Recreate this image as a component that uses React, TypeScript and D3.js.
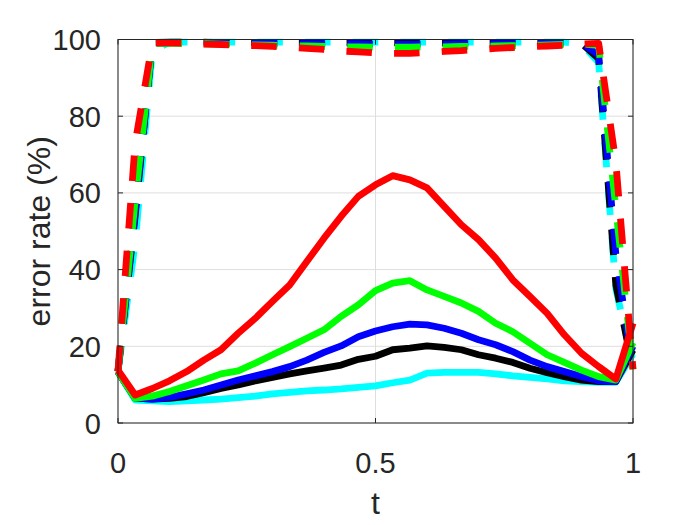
import React from 'react';
import * as d3 from 'd3';

// t = 0, 1/30, ..., 1
const tValues = d3.range(31).map((k) => k / 30);

const yTicks = [0, 20, 40, 60, 80, 100];
const xTicks = [0, 0.5, 1];
const xTickLabels = ['0', '0.5', '1'];

// solid curves (error rate %)
const solidRed = [13.8, 7.3, 9.0, 11.0, 13.4, 16.4, 19.1, 23.4, 27.3, 31.7, 36.0, 42.1, 48.2, 53.9, 59.1, 62.1, 64.5, 63.4, 61.3, 56.5, 51.7, 47.8, 43.0, 37.3, 33.0, 28.6, 23.0, 18.2, 14.7, 11.5, 26.0];
const solidGreen = [13.3, 6.4, 7.0, 8.2, 9.7, 11.2, 12.8, 13.6, 15.6, 17.8, 19.9, 22.1, 24.3, 27.8, 30.8, 34.5, 36.5, 37.1, 34.7, 33.0, 31.3, 29.1, 26.0, 23.8, 20.8, 17.8, 15.8, 13.8, 12.1, 11.2, 21.0];
const solidBlue = [13.3, 6.5, 6.2, 6.7, 7.6, 8.6, 9.9, 11.2, 12.3, 13.4, 14.7, 16.4, 18.4, 20.1, 22.5, 24.0, 25.1, 25.8, 25.6, 24.7, 23.4, 21.7, 20.4, 18.6, 16.4, 14.7, 13.4, 12.1, 11.0, 10.8, 20.0];
const solidBlack = [13.3, 6.5, 6.2, 6.4, 6.9, 7.9, 9.0, 9.9, 11.0, 11.9, 12.8, 13.6, 14.3, 15.1, 16.6, 17.4, 19.1, 19.5, 20.1, 19.7, 19.1, 17.8, 16.9, 15.8, 14.3, 13.1, 12.1, 11.2, 10.8, 10.8, 19.0];
const solidCyan = [13.3, 6.0, 5.8, 5.6, 5.8, 6.0, 6.2, 6.6, 7.0, 7.6, 8.0, 8.4, 8.6, 8.9, 9.3, 9.7, 10.5, 11.2, 13.0, 13.2, 13.2, 13.2, 12.8, 12.3, 11.9, 11.5, 11.0, 10.8, 10.6, 10.6, 18.0];

// dashed curves
const dashedRed = [13.5, 73, 99.1, 99.1, 99.0, 98.8, 98.7, 98.5, 98.4, 98.2, 98.0, 97.7, 97.4, 97.0, 96.8, 96.5, 96.4, 96.4, 96.6, 96.9, 97.1, 97.4, 97.7, 97.9, 98.1, 98.3, 98.5, 98.8, 99.0, 68, 14];
const dashedGreen = [13.5, 58, 99.0, 99.0, 99.0, 98.9, 98.8, 98.7, 98.6, 98.5, 98.4, 98.3, 98.2, 98.1, 98.1, 98.0, 98.0, 98.0, 98.1, 98.1, 98.2, 98.2, 98.3, 98.4, 98.5, 98.6, 98.7, 98.8, 98.5, 56, 14];
const dashedBlue = [13.5, 55, 99.0, 99.1, 99.1, 99.1, 99.0, 99.0, 99.0, 99.0, 99.0, 98.9, 98.9, 98.9, 98.9, 98.8, 98.8, 98.8, 98.8, 98.8, 98.9, 98.9, 98.9, 98.9, 99.0, 99.0, 99.0, 99.0, 96, 44, 14];
const dashedBlack = [13.5, 54, 99.2, 99.3, 99.3, 99.3, 99.2, 99.2, 99.2, 99.2, 99.2, 99.2, 99.1, 99.1, 99.1, 99.1, 99.1, 99.1, 99.1, 99.1, 99.1, 99.1, 99.2, 99.2, 99.2, 99.2, 99.2, 99.0, 95, 36, 14];
const dashedCyan = [13.5, 47, 97, 99.3, 99.3, 99.3, 99.3, 99.3, 99.3, 99.3, 99.3, 99.3, 99.3, 99.3, 99.3, 99.3, 99.3, 99.3, 99.3, 99.3, 99.3, 99.3, 99.3, 99.3, 99.3, 99.3, 99.3, 98.9, 94, 35, 15];

// drawn back to front
const series = [
  { color: '#00ffff', solid: solidCyan, dashed: dashedCyan },
  { color: '#000000', solid: solidBlack, dashed: dashedBlack },
  { color: '#0000ff', solid: solidBlue, dashed: dashedBlue },
  { color: '#00ff00', solid: solidGreen, dashed: dashedGreen },
  { color: '#ff0000', solid: solidRed, dashed: dashedRed },
];

const width = 700;
const height = 525;
const margin = { top: 39.5, right: 67, bottom: 102, left: 118 };
const axisColor = '#262626';
const font = '"Liberation Sans", Arial, Helvetica, sans-serif';

export default function App() {
  const x = d3.scaleLinear().domain([0, 1]).range([margin.left, width - margin.right]);
  const y = d3.scaleLinear().domain([0, 100]).range([height - margin.bottom, margin.top]);
  const [x0, x1] = x.range();
  const [yb, yt] = y.range();

  const line = (vals: number[]) =>
    d3.line<number>()
      .x((_, i) => x(tValues[i]))
      .y((d) => y(d))(vals) || '';

  const tickLen = 5;

  return (
    <svg
      width={width}
      height={height}
      style={{ position: 'absolute', left: 0, top: 0, background: '#fff' }}
      fontFamily={font}
    >
      <rect x={0} y={0} width={width} height={height} fill="#fff" />

      {/* grid */}
      {yTicks.map((v) => (
        <line key={'gy' + v} x1={x0} x2={x1} y1={y(v)} y2={y(v)} stroke="#dedede" strokeWidth={1} />
      ))}
      {xTicks.map((v) => (
        <line key={'gx' + v} x1={x(v)} x2={x(v)} y1={yb} y2={yt} stroke="#dedede" strokeWidth={1} />
      ))}

      {/* data */}
      {series.map((s) => (
        <g key={s.color}>
          <path d={line(s.solid)} fill="none" stroke={s.color} strokeWidth={6.8} strokeLinejoin="round" />
          <path
            d={line(s.dashed)}
            fill="none"
            stroke={s.color}
            strokeWidth={6.8}
            strokeDasharray="25.5 22.2"
            strokeLinejoin="round"
          />
        </g>
      ))}

      {/* box */}
      <rect x={x0} y={yt} width={x1 - x0} height={yb - yt} fill="none" stroke={axisColor} strokeWidth={1} />

      {/* ticks */}
      {yTicks.map((v) => (
        <g key={'ty' + v}>
          <line x1={x0} x2={x0 + tickLen} y1={y(v)} y2={y(v)} stroke={axisColor} />
          <line x1={x1} x2={x1 - tickLen} y1={y(v)} y2={y(v)} stroke={axisColor} />
          <text x={x0 - 17} y={y(v) + 10.5} textAnchor="end" fontSize={29} fill={axisColor}>
            {v}
          </text>
        </g>
      ))}
      {xTicks.map((v, i) => (
        <g key={'tx' + v}>
          <line x1={x(v)} x2={x(v)} y1={yb} y2={yb - tickLen} stroke={axisColor} />
          <line x1={x(v)} x2={x(v)} y1={yt} y2={yt + tickLen} stroke={axisColor} />
          <text x={x(v)} y={yb + 50} textAnchor="middle" fontSize={29} fill={axisColor}>
            {xTickLabels[i]}
          </text>
        </g>
      ))}

      {/* axis labels */}
      <text x={(x0 + x1) / 2} y={514} textAnchor="middle" fontSize={32} fill={axisColor}>
        t
      </text>
      <text
        transform={`translate(50, ${(yb + yt) / 2}) rotate(-90)`}
        textAnchor="middle"
        fontSize={32}
        fill={axisColor}
      >
        error rate (%)
      </text>
    </svg>
  );
}
